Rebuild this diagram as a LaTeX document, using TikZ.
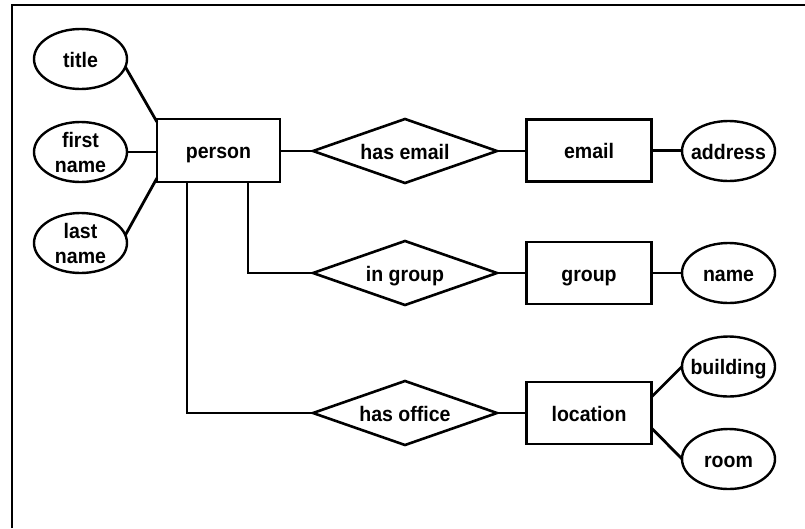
\documentclass[tikz,border=0pt]{standalone}
\usepackage{fontspec}
\setmainfont{Liberation Sans}
\usetikzlibrary{shapes.geometric}
% text that may reach the outline of its shape without widening it
\newcommand\snugtext[1]{\makebox[0pt]{#1}}
\begin{document}
\begin{tikzpicture}[x=1pt,y=-1pt,
  every node/.style={font=\fontsize{21}{25}\selectfont\bfseries\addfontfeature{FakeStretch=0.93}, inner sep=0pt, outer sep=0pt},
  oneline/.style={text height=17pt, text depth=1pt},
  entity/.style={draw, oneline, line width=2.8pt, minimum width=125pt, minimum height=62pt},
  attr/.style={draw, ellipse, line width=2.4pt, minimum width=93pt, minimum height=60pt},
  rel/.style={draw, diamond, oneline, aspect=2.875, line width=2.6pt, minimum width=184pt, minimum height=64pt},
  link/.style={line width=2.8pt}]
  \useasboundingbox (0,0) rectangle (805,528);
  % partial frame
  \draw[line width=2pt] (11.5,528) -- (11.5,4.5) -- (805,4.5);

  % entities
  \node[entity, minimum width=123pt, minimum height=63pt] (person) at (218.5,150.5) {person};
  \node[entity] (email) at (589,150.5) {email};
  \node[entity] (group) at (589,273) {group};
  \node[entity] (location) at (589,413) {location};

  % relationships
  \node[rel] (hasemail) at (405,151) {has email};
  \node[rel] (ingroup) at (405,273) {in group};
  \node[rel] (hasoffice) at (405,413) {has office};

  % attributes
  \node[attr, oneline] (title) at (80.5,59) {title};
  \node[attr, align=center] (firstname) at (80.5,152) {first\\name};
  \node[attr, align=center] (lastname) at (80.5,243) {last\\name};
  \node[attr, oneline] (address) at (728.5,151) {\snugtext{address}};
  \node[attr, oneline] (name) at (728.5,273) {name};
  \node[attr, oneline] (building) at (728.5,366.5) {\snugtext{building}};
  \node[attr, oneline] (room) at (728.5,459) {room};

  % connectors
  \draw[link] (title.-10) -- ([yshift=-3pt]person.north west);
  \draw[link] (firstname.east) -- (firstname.east -| person.west);
  \draw[link] (lastname.10) -- ([yshift=4pt]person.south west);
  \draw[link] (person.east |- hasemail.west) -- (hasemail.west);
  \draw[link] (hasemail.east) -- (email.west |- hasemail.east);
  \draw[link] (email.east) -- (email.east -| address.west);
  \draw[link] ([xshift=29.5pt]person.south) |- (ingroup.west);
  \draw[link] (ingroup.east) -- (group.west);
  \draw[link] (group.east) -- (name.west);
  \draw[link] ([xshift=-31.5pt]person.south) |- (hasoffice.west);
  \draw[link] (hasoffice.east) -- (location.west);
  \draw[link] ([yshift=16pt]location.east) -- (building.west);
  \draw[link] ([yshift=-15pt]location.east) -- (room.west);
\end{tikzpicture}
\end{document}
